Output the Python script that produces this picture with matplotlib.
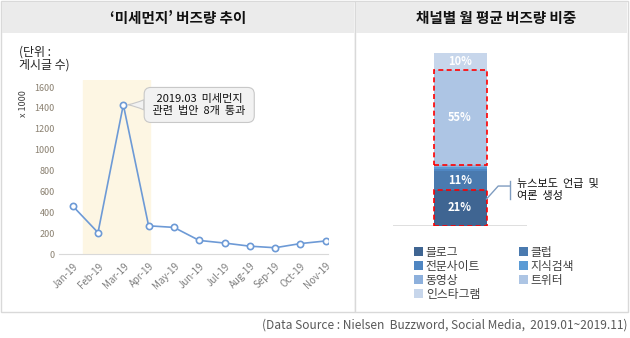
import matplotlib
matplotlib.use("Agg")
import matplotlib.pyplot as plt
from matplotlib.patches import Rectangle
from matplotlib.lines import Line2D

plt.rcParams['font.family'] = ['Noto Sans CJK KR', 'DejaVu Sans']

# ---- data ----
months = ['Jan-19', 'Feb-19', 'Mar-19', 'Apr-19', 'May-19', 'Jun-19',
          'Jul-19', 'Aug-19', 'Sep-19', 'Oct-19', 'Nov-19']
buzz = [460, 205, 1430, 270, 255, 130, 105, 75, 60, 100, 125]
y_ticks = [0, 200, 400, 600, 800, 1000, 1200, 1400, 1600]

channels = ['블로그', '클럽', '전문사이트', '지식검색', '동영상', '트위터', '인스타그램']
shares = [21, 11, 1, 1, 1, 55, 10]
channel_colors = ['#3f6592', '#4a7aaf', '#4f86c2', '#5b9bd5', '#8db0dc', '#adc5e4', '#c7d6eb']
share_labels = ['21%', '11%', '', '', '', '55%', '10%']

W, H = 630, 338
fig = plt.figure(figsize=(W / 100, H / 100), dpi=100)


def box(x0, y0, x1, y1):
    """pixel box (top-left origin) -> figure fraction rect"""
    return [x0 / W, 1 - y1 / H, (x1 - x0) / W, (y1 - y0) / H]


# ---- panel frames and header bands ----
bg = fig.add_axes([0, 0, 1, 1])
bg.set_xlim(0, W)
bg.set_ylim(H, 0)
bg.axis('off')
for x0, x1 in [(1, 355), (355, 628)]:
    bg.add_patch(Rectangle((x0, 1), x1 - x0, 311, fc='white', ec='#d9d9d9', lw=1.0))
    bg.add_patch(Rectangle((x0 + 1, 2), x1 - x0 - 2, 31, fc='#ebebeb', ec='none'))
bg.text(178, 17.5, '‘미세먼지’ 버즈량 추이', ha='center', va='center',
        fontsize=10.5, fontweight='bold', color='#111111')
bg.text(496, 17.5, '채널별 월 평균 버즈량 비중', ha='center', va='center',
        fontsize=10.5, fontweight='bold', color='#111111')
bg.text(19, 59, '(단위 :\n게시글 수)', ha='left', va='center', fontsize=8.6,
        color='#222222', linespacing=1.0)
bg.text(24, 104, 'x 1000', ha='center', va='center', rotation=90,
        fontsize=6.5, color='#404040')
bg.text(628, 325, '(Data Source : Nielsen  Buzzword, Social Media,  2019.01~2019.11)',
        ha='right', va='center', fontsize=8.6, color='#595959')

# ---- line chart ----
ax = fig.add_axes(box(58.8, 79.7, 328, 254))
x = list(range(len(months)))
ax.axvspan(0.42, 3.04, color='#fdf6e3', zorder=0)
ax.plot(x, buzz, color='#6d9ad6', lw=1.2, marker='o', ms=4.5,
        mfc='white', mec='#6d9ad6', mew=1.2, zorder=3)
ax.set_xlim(-0.55, 10.09)
ax.set_ylim(0, 1670)
ax.set_xticks(x)
ax.set_xticklabels(months, rotation=45, ha='right', rotation_mode='anchor',
                   fontsize=7, color='#7f7f7f')
ax.set_yticks(y_ticks)
ax.set_yticklabels([str(v) for v in y_ticks], fontsize=6.5, color='#8a8070')
ax.tick_params(length=0, pad=3)
ax.tick_params(axis='x', pad=5)
for s in ['top', 'right', 'left']:
    ax.spines[s].set_visible(False)
ax.spines['bottom'].set_color('#d9d9d9')
ax.set_facecolor('none')
ax.annotate(' 2019.03  미세먼지 \n 관련  법안  8개  통과 ',
            xy=(2.12, 1430), xytext=(5.0, 1428),
            ha='center', va='center', fontsize=8, color='#111111', linespacing=1.35,
            bbox=dict(boxstyle='round,pad=0.55,rounding_size=0.6', fc='#f2f2f2',
                      ec='#c8c8c8', lw=0.8),
            arrowprops=dict(arrowstyle='wedge,tail_width=0.9,shrink_factor=0.4',
                            fc='#f2f2f2', ec='#c8c8c8', lw=0.8, shrinkA=0, shrinkB=1),
            zorder=5)

# ---- stacked bar ----
bx = fig.add_axes(box(393, 53, 527, 226))
bx.set_xlim(-1, 1)
bx.set_ylim(0, 100)
bx.axis('off')
bw = 53 / 67
bottom = 0
bounds = []
for name, val, col, lab in zip(channels, shares, channel_colors, share_labels):
    bx.bar(0, val, bottom=bottom, width=bw, color=col, label=name, zorder=2)
    if lab:
        bx.text(0, bottom + val / 2, lab, ha='center', va='center', color='white',
                fontsize=8, fontweight='bold', zorder=4)
    bounds.append((bottom, val))
    bottom += val
bx.axhline(0, xmin=0, xmax=1, color='#d9d9d9', lw=1.2, zorder=1)
for i in (0, 5):
    b0, v = bounds[i]
    bx.add_patch(Rectangle((-bw / 2, b0), bw, v, fill=False, ec='#ff0000',
                           ls=(0, (3, 2)), lw=1.2, zorder=5))

# callout bracket for the blog segment
callout_col = '#7f9cc0'
bx.add_line(Line2D([bw / 2, 0.57, 0.745], [15.6, 23.1, 23.1], color=callout_col,
                   lw=1.0, clip_on=False, zorder=6))
bx.add_line(Line2D([0.745, 0.745], [15.6, 26.0], color=callout_col,
                   lw=1.0, clip_on=False, zorder=6))
bx.text(0.85, 20.8, '뉴스보도  언급  및\n여론  생성', ha='left', va='center',
        fontsize=8, color='#111111', linespacing=1.3, clip_on=False)

# ---- legend (row-wise reading order) ----
handles, labels = bx.get_legend_handles_labels()
order = [0, 2, 4, 6, 1, 3, 5]
fig.legend([handles[i] for i in order], [labels[i] for i in order],
           loc='upper left', bbox_to_anchor=(408 / W, 1 - 240 / H), ncol=2,
           frameon=False, fontsize=8.5, handlelength=0.75, handleheight=0.75,
           handletextpad=0.25, columnspacing=3.3, labelspacing=0.08,
           borderpad=0, labelcolor='#404040')

fig.savefig('out.png', dpi=100)
